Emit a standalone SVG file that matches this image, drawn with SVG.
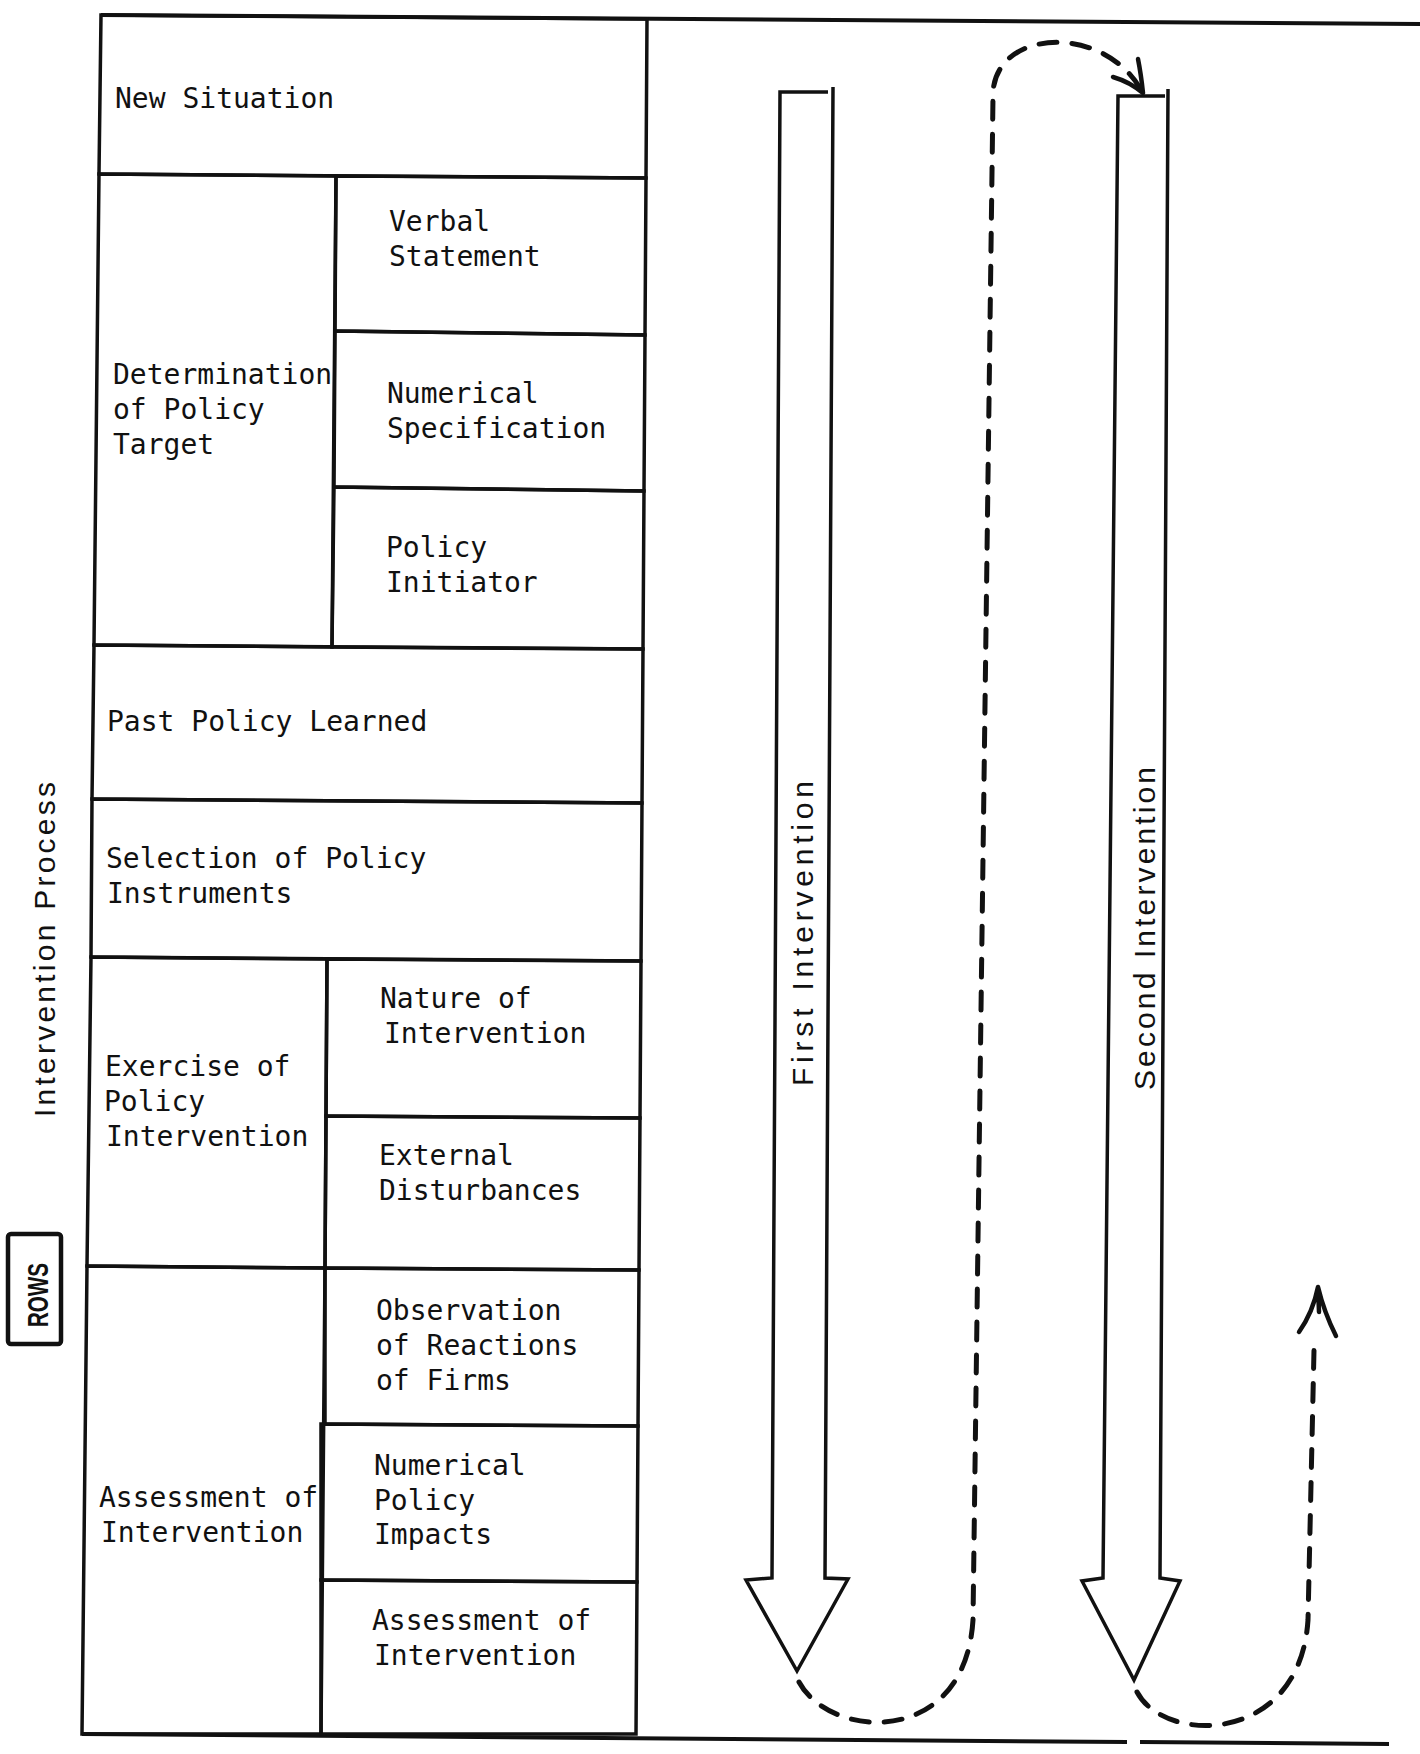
<svg xmlns="http://www.w3.org/2000/svg" width="1420" height="1754" viewBox="0 0 1420 1754">
<style>
.cell{fill:none;stroke:#111;stroke-width:3.5;stroke-linejoin:miter}
.t{font-family:"DejaVu Sans Mono","Liberation Mono",monospace;font-size:28px;fill:#111}
.v{font-family:"Liberation Sans","DejaVu Sans",sans-serif;font-size:30px;fill:#111}
.frame{fill:none;stroke:#111;stroke-width:4}
.blk{fill:none;stroke:#111;stroke-width:3.5;stroke-linejoin:miter}
.dash{fill:none;stroke:#111;stroke-width:5;stroke-dasharray:18 15;stroke-linecap:round}
.head{fill:none;stroke:#111;stroke-width:4.5;stroke-linecap:round;stroke-linejoin:round}
</style>
<rect width="1420" height="1754" fill="#fff"/>

<g id="frame">
  <line class="frame" x1="101" y1="15" x2="1420" y2="24"/>
  <line class="frame" x1="82" y1="1734" x2="1127" y2="1742"/>
  <line class="frame" x1="1140" y1="1742" x2="1389" y2="1744"/>
</g>

<g id="axis-label">
  <text class="v" transform="translate(55,1117) rotate(-90)" textLength="335" lengthAdjust="spacing">Intervention Process</text>
</g>

<g id="rows-tag">
  <rect x="8" y="1234" width="53" height="110" rx="3" fill="none" stroke="#111" stroke-width="4.5"/>
  <text class="v" transform="translate(48,1327) rotate(-90)" font-size="27" font-weight="bold" textLength="64" lengthAdjust="spacingAndGlyphs">ROWS</text>
</g>

<g id="new-situation">
  <polygon class="cell" points="101,15 647,19 646,178 99,174"/>
  <text class="t" x="115" y="108">New Situation</text>
</g>

<g id="determination-of-policy-target">
  <polygon class="cell" points="99,174 336,176 332,647 94,645"/>
  <text class="t" x="113" y="384">Determination</text>
  <text class="t" x="113" y="419">of Policy</text>
  <text class="t" x="113" y="454">Target</text>
</g>

<g id="verbal-statement">
  <polygon class="cell" points="336,176 646,178 645,335 335,331"/>
  <text class="t" x="389" y="231">Verbal</text>
  <text class="t" x="389" y="266">Statement</text>
</g>

<g id="numerical-specification">
  <polygon class="cell" points="335,331 645,335 644,491 334,487"/>
  <text class="t" x="387" y="403">Numerical</text>
  <text class="t" x="387" y="438">Specification</text>
</g>

<g id="policy-initiator">
  <polygon class="cell" points="334,487 644,491 643,649 332,647"/>
  <text class="t" x="386" y="557">Policy</text>
  <text class="t" x="386" y="592">Initiator</text>
</g>

<g id="past-policy-learned">
  <polygon class="cell" points="94,645 643,649 642,803 92,799"/>
  <text class="t" x="107" y="731">Past Policy Learned</text>
</g>

<g id="selection-of-policy-instruments">
  <polygon class="cell" points="92,799 642,803 641,961 91,957"/>
  <text class="t" x="106" y="868">Selection of Policy</text>
  <text class="t" x="107" y="903">Instruments</text>
</g>

<g id="exercise-of-policy-intervention">
  <polygon class="cell" points="91,957 327,959 325,1268 87,1266"/>
  <text class="t" x="105" y="1076">Exercise of</text>
  <text class="t" x="104" y="1111">Policy</text>
  <text class="t" x="106" y="1146">Intervention</text>
</g>

<g id="nature-of-intervention">
  <polygon class="cell" points="327,959 641,961 640,1118 326,1116"/>
  <text class="t" x="380" y="1008">Nature of</text>
  <text class="t" x="384" y="1043">Intervention</text>
</g>

<g id="external-disturbances">
  <polygon class="cell" points="326,1116 640,1118 639,1270 325,1268"/>
  <text class="t" x="379" y="1165">External</text>
  <text class="t" x="379" y="1200">Disturbances</text>
</g>

<g id="assessment-of-intervention-left">
  <polygon class="cell" points="87,1266 325,1268 321,1734 82,1734"/>
  <text class="t" x="99" y="1507">Assessment of</text>
  <text class="t" x="101" y="1542">Intervention</text>
</g>

<g id="observation-of-reactions">
  <polygon class="cell" points="325,1268 639,1270 638,1426 325,1424"/>
  <text class="t" x="376" y="1320">Observation</text>
  <text class="t" x="376" y="1355">of Reactions</text>
  <text class="t" x="376" y="1390">of Firms</text>
</g>

<g id="numerical-policy-impacts">
  <polygon class="cell" points="321,1424 638,1426 637,1582 321,1580"/>
  <text class="t" x="374" y="1475">Numerical</text>
  <text class="t" x="374" y="1510">Policy</text>
  <text class="t" x="374" y="1544">Impacts</text>
</g>

<g id="assessment-of-intervention-right">
  <polygon class="cell" points="321,1580 637,1582 636,1734 321,1734"/>
  <text class="t" x="372" y="1630">Assessment of</text>
  <text class="t" x="374" y="1665">Intervention</text>
</g>

<g id="first-intervention">
  <path class="blk" d="M 828 92 L 780 92 L 772 1578 L 746 1580 L 797 1671 L 848 1579 L 825 1578 L 833 87"/>
  <text class="v" transform="translate(813,1086) rotate(-90)" textLength="305" lengthAdjust="spacing">First Intervention</text>
</g>

<g id="second-intervention">
  <path class="blk" d="M 1165 96 L 1118 96 L 1103 1578 L 1082 1581 L 1134 1680 L 1180 1581 L 1160 1578 L 1168 89"/>
  <text class="v" transform="translate(1155,1090) rotate(-90)" textLength="323" lengthAdjust="spacing">Second Intervention</text>
</g>

<g id="connectors">
  <path class="dash" d="M 799 1682 C 830 1740, 965 1748, 973 1620 L 993 96 C 992 30, 1100 22, 1140 88"/>
  <path class="head" d="M 1113 77 Q 1130 82 1143 93 Q 1141 74 1138 59"/>
  <path class="dash" d="M 1137 1692 C 1165 1745, 1300 1745, 1308 1620 L 1314 1350"/>
  <path class="head" d="M 1299 1332 Q 1313 1312 1318 1287 Q 1324 1312 1336 1336 M 1318 1287 L 1319 1312"/>
</g>
</svg>
